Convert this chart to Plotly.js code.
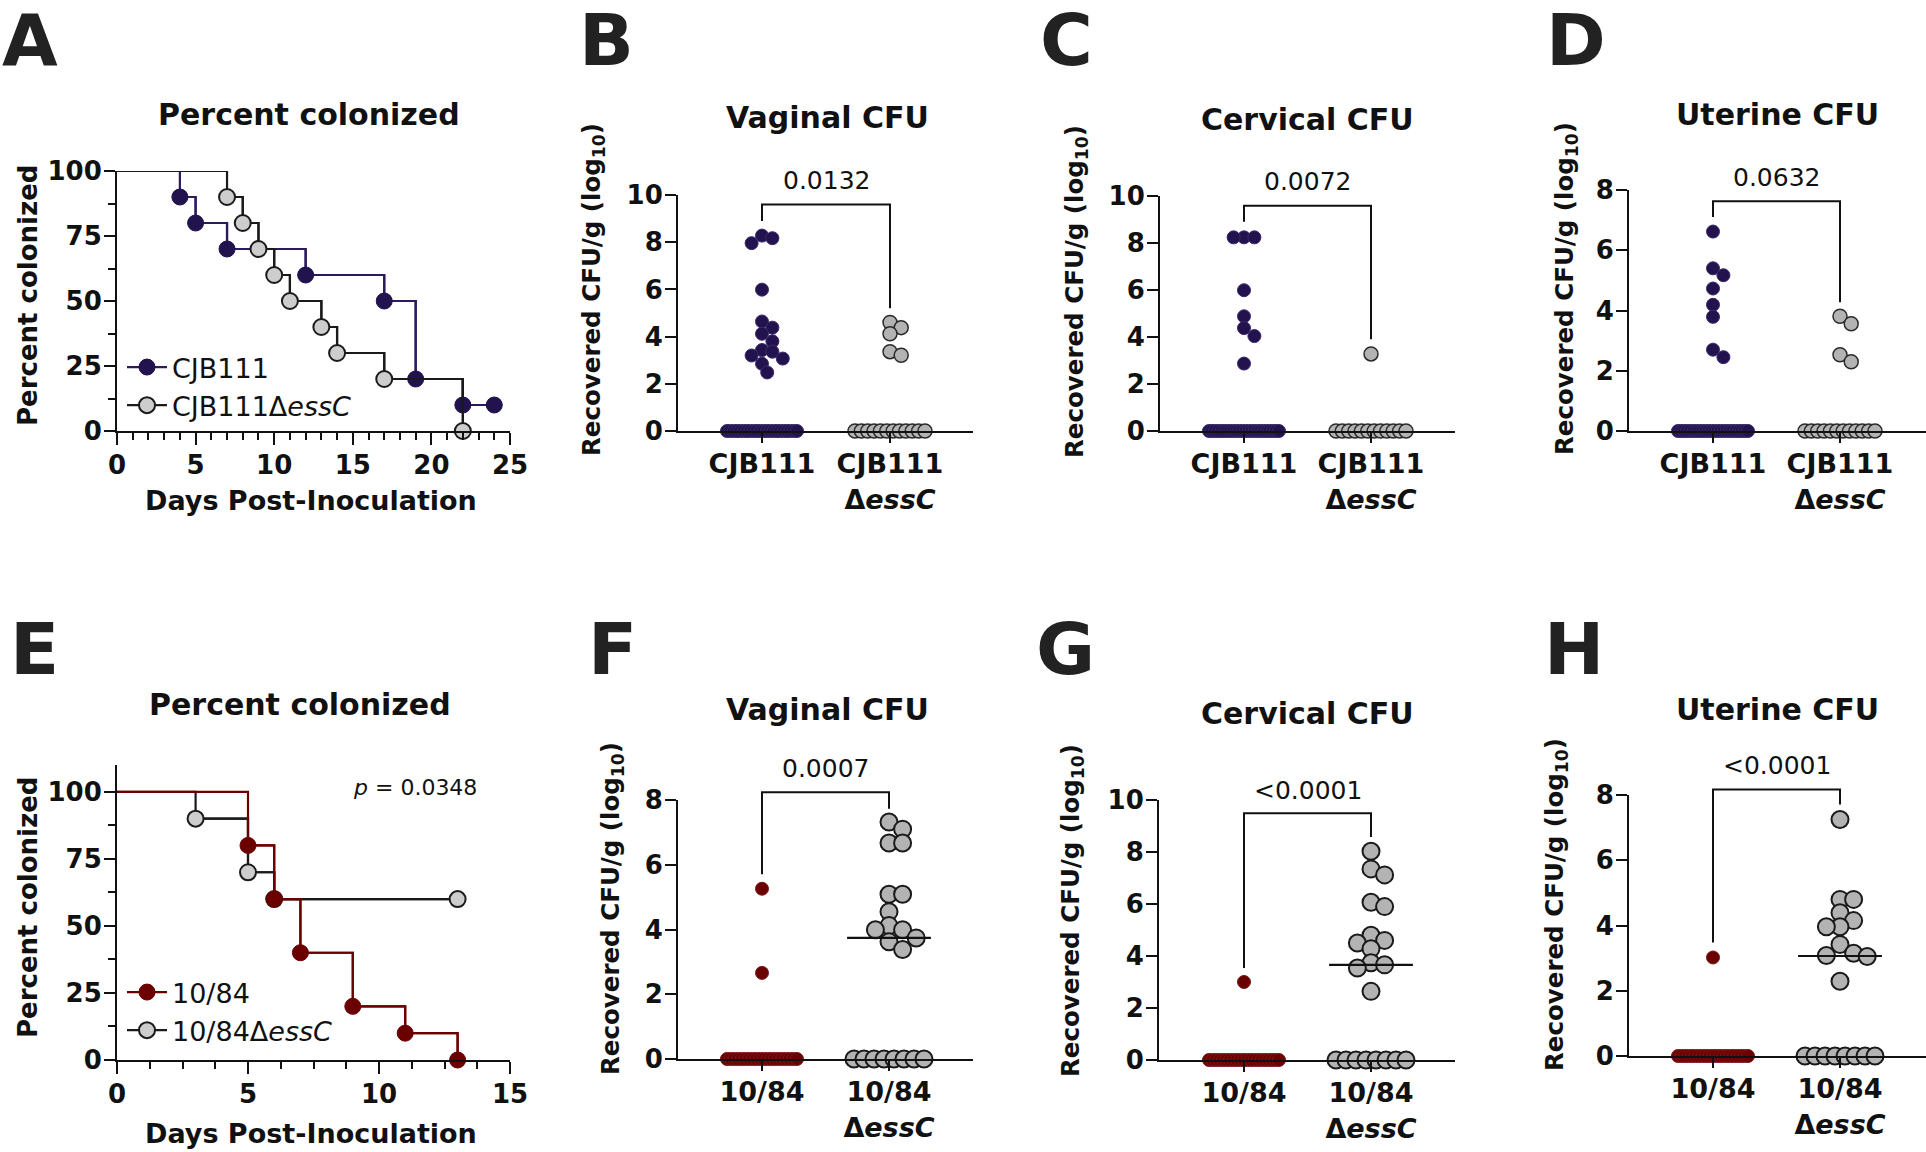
<!DOCTYPE html>
<html><head><meta charset="utf-8">
<script src="https://cdn.plot.ly/plotly-3.0.1.min.js"></script>
<style>html,body{margin:0;padding:0;background:#fff}#chart{width:1926px;height:1152px}</style>
</head><body><div id="chart"></div>
<script>
// ---------------- DATA ----------------
// Survival (percent colonized) - panel A
const daysA_CJB111 = [0, 4, 5, 7, 12, 17, 19, 22, 24];
const pctA_CJB111  = [100, 90, 80, 70, 60, 50, 20, 10, 10];
const daysA_dEssC  = [0, 7, 8, 9, 10, 11, 13, 14, 17, 22];
const pctA_dEssC   = [100, 90, 80, 70, 60, 50, 40, 30, 20, 0];
// Survival - panel E
const daysE_1084   = [0, 5, 6, 7, 9, 11, 13];
const pctE_1084    = [100, 80, 60, 40, 20, 10, 0];
const daysE_dEssC  = [0, 3, 5, 6, 13];
const pctE_dEssC   = [100, 90, 70, 60, 60];

// CFU (log10) - top row
const catsTop = ['CJB111', 'CJB111<br>Δ<i>essC</i>'];
const vagCJB111 = [8.28, 8.17, 7.96, 5.99, 4.64, 4.38, 4.12, 3.8, 3.43, 3.36, 3.2, 3.07, 2.85, 2.48,
  0,0,0,0,0,0,0,0,0,0,0,0,0,0,0,0,0,0,0,0,0,0];
const vagCJB111dEssC = [4.6, 4.38, 4.12, 3.36, 3.21, 0,0,0,0,0,0,0,0,0,0,0,0];
const cerCJB111 = [8.24, 8.24, 8.24, 5.99, 4.88, 4.38, 4.04, 2.87,
  0,0,0,0,0,0,0,0,0,0,0,0,0,0,0,0,0,0,0,0,0,0,0,0];
const cerCJB111dEssC = [3.28, 0,0,0,0,0,0,0,0,0,0,0,0];
const uteCJB111 = [6.62, 5.40, 5.17, 4.73, 4.19, 3.79, 2.70, 2.45,
  0,0,0,0,0,0,0,0,0,0,0,0,0,0,0,0,0,0,0,0,0,0,0,0];
const uteCJB111dEssC = [3.81, 3.56, 2.53, 2.30, 0,0,0,0,0,0,0,0,0,0,0,0];

// CFU (log10) - bottom row
const catsBot = ['10/84', '10/84<br>Δ<i>essC</i>'];
const vag1084 = [5.26, 2.66, 0,0,0,0,0,0,0,0,0,0,0,0,0,0,0,0,0,0,0,0];
const vag1084dEssC = [7.32, 7.1, 6.67, 6.67, 5.09, 5.09, 4.55, 4.12, 3.99, 3.99, 3.74, 3.62, 3.38, 0,0,0,0,0,0,0,0];
const cer1084 = [3.0, 0,0,0,0,0,0,0,0,0,0,0,0,0,0,0,0,0,0,0,0,0];
const cer1084dEssC = [8.03, 7.35, 7.12, 6.07, 5.9, 4.8, 4.6, 4.5, 4.28, 3.74, 3.66, 3.54, 2.64, 0,0,0,0,0,0,0,0];
const ute1084 = [3.02, 0,0,0,0,0,0,0,0,0,0,0,0,0,0,0,0,0,0,0,0,0];
const ute1084dEssC = [7.25, 4.8, 4.8, 4.39, 4.15, 3.96, 3.96, 3.42, 3.15, 3.08, 3.05, 2.29, 0,0,0,0,0,0,0,0];

// p-values
const pTop = ['0.0132', '0.0072', '0.0632'];
const pBot = ['0.0007', '&lt;0.0001', '&lt;0.0001'];
const pSurvE = '0.0348';

// ---------------- STYLE / LAYOUT ----------------
const W = 1926, H = 1152;
const FONT = 'DejaVu Sans';
const INK = '#111111';
const PURPLE = '#22124d';
const RED = '#6b0000';
const GRAY = '#b3b3b3';
const GRAY_LIGHT = '#cdcdcd';
const px = x => x / W;
const py = y => 1 - y / H;

const P = {
  A: {x0:117, x1:510, y0:171, y1:431},
  B: {x0:678, x1:973, y0:195, y1:431, c1:762, c2:890, ymax:10},
  C: {x0:1160, x1:1455, y0:196, y1:431, c1:1244, c2:1371, ymax:10},
  D: {x0:1629, x1:1926, y0:190, y1:431, c1:1713, c2:1840, ymax:8},
  E: {x0:117, x1:510, y0:765, y1:1060},
  F: {x0:678, x1:973, y0:800, y1:1059, c1:762, c2:889, ymax:8},
  G: {x0:1159, x1:1455, y0:800, y1:1060, c1:1244, c2:1371, ymax:10},
  H: {x0:1629, x1:1926, y0:795, y1:1056, c1:1713, c2:1840, ymax:8}
};

function swarmOffsets(vals, pxPerUnit, d, halfW) {
  const n = vals.length, off = new Array(n).fill(null), placed = [];
  const groups = {};
  vals.forEach((v, i) => { (groups[v] = groups[v] || []).push(i); });
  Object.keys(groups).forEach(k => {
    const ids = groups[k];
    if (ids.length >= 5) {
      const step = 2 * halfW / (ids.length - 1);
      ids.forEach((i, j) => { off[i] = -halfW + j * step; placed.push([off[i], vals[i] * pxPerUnit]); });
    }
  });
  const order = vals.map((v, i) => i).filter(i => off[i] === null).sort((a, b) => vals[b] - vals[a]);
  order.forEach(i => {
    const y = vals[i] * pxPerUnit;
    for (let k = 0; k < 60; k++) {
      const cand = k === 0 ? 0 : (k % 2 ? 1 : -1) * Math.ceil(k / 2) * d * 0.4;
      if (placed.every(([qx, qy]) => Math.hypot(qx - cand, qy - y) >= d * 0.78)) { off[i] = cand; break; }
    }
    if (off[i] === null) off[i] = 0;
    placed.push([off[i], y]);
  });
  return off;
}
function median(a) {
  const s = a.slice().sort((x, y) => x - y), n = s.length;
  return n % 2 ? s[(n - 1) / 2] : (s[n / 2 - 1] + s[n / 2]) / 2;
}

const traces = [];
const layout = {
  width: W, height: H,
  margin: {l: 0, r: 0, t: 0, b: 0},
  paper_bgcolor: '#ffffff', plot_bgcolor: '#ffffff',
  font: {family: FONT, color: INK},
  showlegend: true,
  annotations: [], shapes: []
};

function baseAxis(extra) {
  return Object.assign({
    showgrid: false, zeroline: false, showline: true, linecolor: INK, linewidth: 2,
    ticks: 'outside', tickcolor: INK, tickwidth: 2, ticklen: 11,
    tickfont: {family: FONT, size: 26, color: INK, weight: 'bold'},
    fixedrange: true
  }, extra);
}

// ------ survival panels ------
function survivalPanel(idx, p, xmax, xminor, yrange, series, legendName) {
  const xa = 'xaxis' + (idx === 1 ? '' : idx), ya = 'yaxis' + (idx === 1 ? '' : idx);
  const xr = 'x' + (idx === 1 ? '' : idx), yr = 'y' + (idx === 1 ? '' : idx);
  layout[xa] = baseAxis({domain: [px(p.x0), px(p.x1)], range: [0, xmax], anchor: yr,
    tickmode: 'linear', tick0: 0, dtick: 5, ticklen: 12, ticklabelstandoff: -2,
    minor: {dtick: xminor, tick0: 0, ticks: 'outside', ticklen: 7, tickwidth: 2, tickcolor: INK}});
  layout[ya] = baseAxis({domain: [py(p.y1), py(p.y0)], range: yrange, anchor: xr,
    tickmode: 'array', tickvals: [0, 25, 50, 75, 100], ticklen: 11, ticklabelstandoff: -3,
    minor: {tickmode: 'array', tickvals: [12.5, 37.5, 62.5, 87.5], ticks: 'outside', ticklen: 7, tickwidth: 2, tickcolor: INK}});
  series.forEach(s => {
    traces.push({type: 'scatter', mode: 'lines', x: s.x, y: s.y, xaxis: xr, yaxis: yr,
      line: {shape: 'hv', color: s.lc, width: 2.2}, showlegend: false, hoverinfo: 'skip', cliponaxis: false});
    traces.push({type: 'scatter', mode: 'lines+markers', x: s.x.slice(1), y: s.y.slice(1), xaxis: xr, yaxis: yr,
      name: s.name, legend: legendName, legendrank: s.rank,
      line: {shape: 'hv', color: s.lc, width: 2.2},
      marker: {size: 16, color: s.fc, line: {color: s.mlc, width: s.mlw}},
      cliponaxis: false});
  });
}

survivalPanel(1, P.A, 25, 1, [0, 100], [
  {x: daysA_CJB111, y: pctA_CJB111, lc: '#2a1a5e', fc: PURPLE, mlc: PURPLE, mlw: 1, name: 'CJB111', rank: 1},
  {x: daysA_dEssC, y: pctA_dEssC, lc: '#1a1a1a', fc: GRAY_LIGHT, mlc: '#1a1a1a', mlw: 2, name: 'CJB111Δ<i>essC</i>', rank: 2}
], 'legend');
survivalPanel(5, P.E, 15, 1.25, [0, 110], [
  {x: daysE_dEssC, y: pctE_dEssC, lc: '#1a1a1a', fc: GRAY_LIGHT, mlc: '#1a1a1a', mlw: 2, name: '10/84Δ<i>essC</i>', rank: 2},
  {x: daysE_1084, y: pctE_1084, lc: RED, fc: RED, mlc: RED, mlw: 1, name: '10/84', rank: 1}
], 'legend2');

layout.legend = {x: px(122), y: py(343), xanchor: 'left', yanchor: 'top', bgcolor: 'rgba(0,0,0,0)',
  font: {family: FONT, size: 27, color: INK}, tracegroupgap: 0, itemwidth: 40};
layout.legend2 = {x: px(122), y: py(968), xanchor: 'left', yanchor: 'top', bgcolor: 'rgba(0,0,0,0)',
  font: {family: FONT, size: 27, color: INK}, tracegroupgap: 0, itemwidth: 40};

// ------ CFU panels ------
function cfuPanel(idx, p, cats, g1, g2, style1, style2, pText, br, showMedian) {
  const xa = 'xaxis' + idx, ya = 'yaxis' + idx, xr = 'x' + idx, yr = 'y' + idx;
  const catPx = p.c2 - p.c1;
  const xrange = [(p.x0 - p.c1) / catPx, (p.x1 - p.c1) / catPx];
  const pxPerUnit = (p.y1 - p.y0) / p.ymax;
  const vy = v => py(p.y1 - v * pxPerUnit);   // value -> paper y
  layout[xa] = baseAxis({domain: [px(p.x0), px(p.x1)], range: xrange, anchor: yr,
    tickmode: 'array', tickvals: [0, 1], ticktext: cats, ticklen: 10, ticklabelstandoff: -2,
    tickfont: {family: FONT, size: 27, color: INK, weight: 'bold'}});
  layout[ya] = baseAxis({domain: [py(p.y1), py(p.y0)], range: [0, p.ymax], anchor: xr,
    tickmode: 'linear', tick0: 0, dtick: 2, ticklen: 11, ticklabelstandoff: -3});
  [[g1, style1, 0], [g2, style2, 1]].forEach(([vals, st, ci]) => {
    const off = swarmOffsets(vals, pxPerUnit, st.size, 35);
    traces.push({type: 'scatter', mode: 'markers', xaxis: xr, yaxis: yr, showlegend: false,
      x: off.map(o => ci + o / catPx), y: vals, cliponaxis: false,
      marker: {size: st.size, color: st.fill, line: {color: st.line, width: st.lw}}});
  });
  // significance bracket (paper coordinates so it may sit above the axis range)
  const xL = px(p.c1), xR = px(p.c2);
  layout.shapes.push({type: 'path', xref: 'paper', yref: 'paper', layer: 'above',
    path: `M ${xL},${vy(br[1])} L ${xL},${vy(br[0])} L ${xR},${vy(br[0])} L ${xR},${vy(br[2])}`,
    line: {color: INK, width: 2}});
  layout.annotations.push({xref: 'paper', yref: 'paper', x: (xL + xR) / 2, y: vy(br[3]), text: pText,
    showarrow: false, xanchor: 'center', yanchor: 'middle',
    font: {family: FONT, size: 25, color: INK, weight: 'normal'}});
  if (showMedian) {
    const m = median(g2);
    layout.shapes.push({type: 'line', xref: xr, yref: yr, x0: 1 - 0.33, x1: 1 + 0.33, y0: m, y1: m,
      line: {color: INK, width: 2.2}, layer: 'above'});
  }
}

const stPurple = {size: 13, fill: PURPLE, line: '#3a2a6a', lw: 1};
const stGrayTop = {size: 14, fill: GRAY, line: '#2a2a2a', lw: 1.5};
const stRed = {size: 13, fill: RED, line: '#7a1a1a', lw: 1};
const stGrayBot = {size: 17, fill: GRAY, line: '#1a1a1a', lw: 2};

cfuPanel(2, P.B, catsTop, vagCJB111, vagCJB111dEssC, stPurple, stGrayTop, pTop[0], [9.6, 8.9, 5.2, 10.6], false);
cfuPanel(3, P.C, catsTop, cerCJB111, cerCJB111dEssC, stPurple, stGrayTop, pTop[1], [9.59, 8.9, 3.9, 10.6], false);
cfuPanel(4, P.D, catsTop, uteCJB111, uteCJB111dEssC, stPurple, stGrayTop, pTop[2], [7.63, 7.1, 4.27, 8.4], false);
cfuPanel(6, P.F, catsBot, vag1084, vag1084dEssC, stRed, stGrayBot, pBot[0], [8.24, 5.71, 7.73, 8.96], true);
cfuPanel(7, P.G, catsBot, cer1084, cer1084dEssC, stRed, stGrayBot, pBot[1], [9.49, 3.54, 8.58, 10.36], true);
cfuPanel(8, P.H, catsBot, ute1084, ute1084dEssC, stRed, stGrayBot, pBot[2], [8.17, 3.48, 7.71, 8.9], true);

// ------ text annotations ------
function ann(x, y, text, size, opts) {
  layout.annotations.push(Object.assign({xref: 'paper', yref: 'paper', x: px(x), y: py(y), text: text,
    showarrow: false, xanchor: 'center', yanchor: 'middle',
    font: {family: FONT, size: size, color: INK, weight: 'bold'}}, opts || {}));
}
// panel letters
[['A', 0, 40], ['B', 577, 40], ['C', 1038, 40], ['D', 1544, 40],
 ['E', 8, 649], ['F', 586, 649], ['G', 1034, 649], ['H', 1542, 649]].forEach(([t, x, y]) =>
  ann(x, y, t, 72, {xanchor: 'left', font: {family: FONT, size: 72, color: '#222222', weight: 'bold'}}));
// panel titles
[['Percent colonized', 309, 114], ['Vaginal CFU', 827, 117], ['Cervical CFU', 1307, 119], ['Uterine CFU', 1777, 114],
 ['Percent colonized', 300, 704], ['Vaginal CFU', 827, 709], ['Cervical CFU', 1307, 713], ['Uterine CFU', 1777, 709]
].forEach(([t, x, y]) => ann(x, y, t, 30));
// axis titles
ann(311, 501, 'Days Post-Inoculation', 27);
ann(311, 1133, 'Days Post-Inoculation', 27);
ann(28, 296, 'Percent colonized', 26, {textangle: -90});
ann(28, 908, 'Percent colonized', 26, {textangle: -90});
const yTitle = 'Recovered CFU/g (log<sub>10</sub>)';
[[593, 290], [1076, 292], [1566, 289], [612, 909], [1072, 911], [1556, 905]].forEach(([x, y]) =>
  ann(x, y, yTitle, 24.5, {textangle: -90}));
// p value for E
ann(415, 787, '<i>p</i> = ' + pSurvE, 22, {font: {family: FONT, size: 22, color: INK, weight: 'normal'}});

Plotly.newPlot('chart', traces, layout, {displayModeBar: false, staticPlot: true});
</script></body></html>
